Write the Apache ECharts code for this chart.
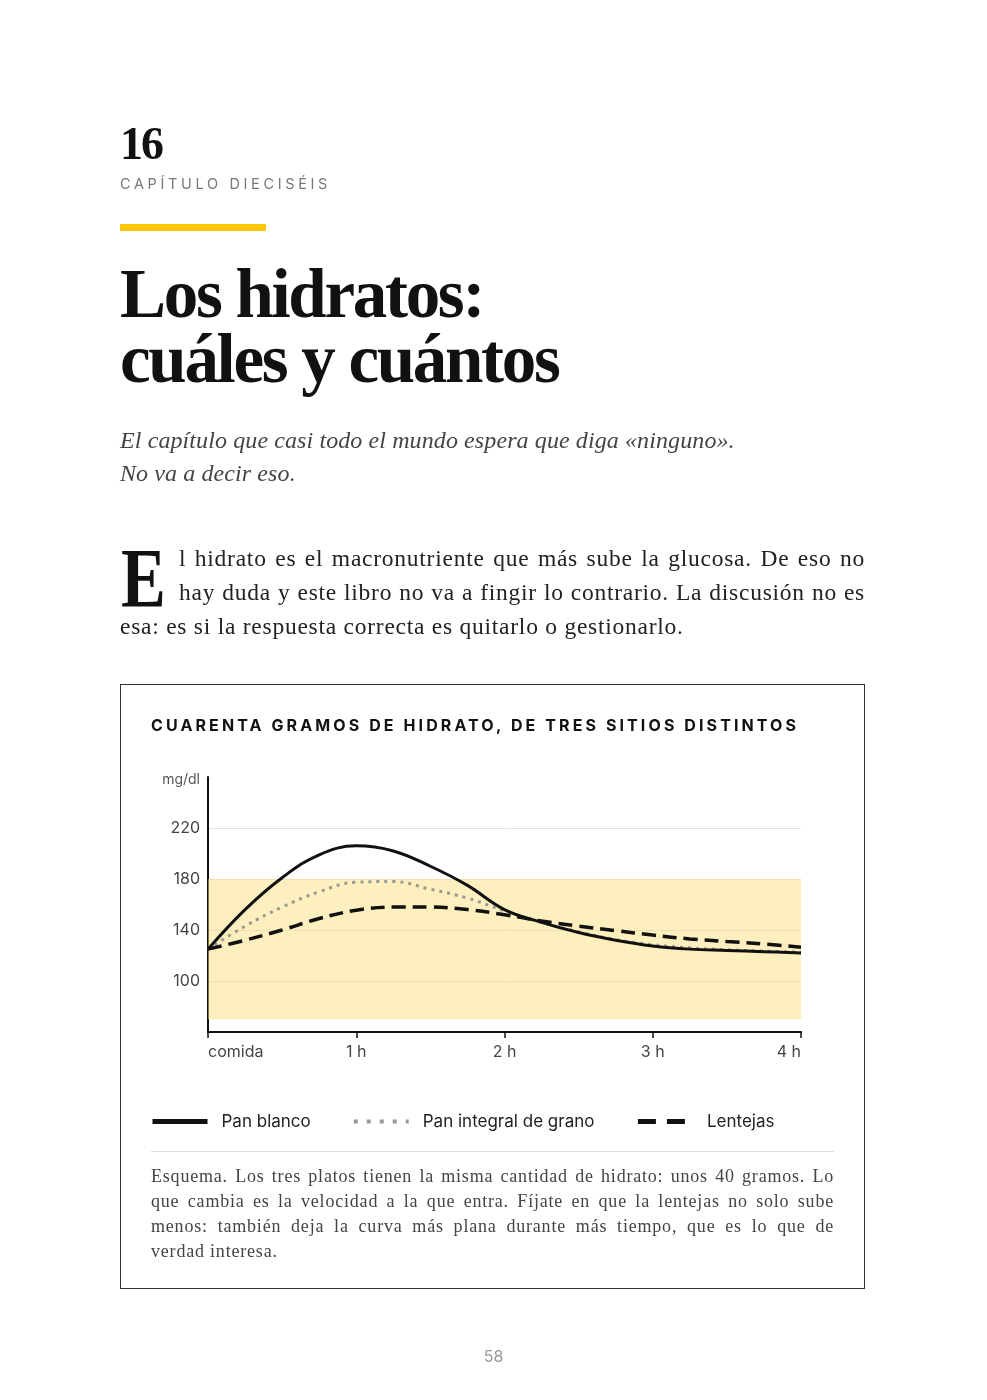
<!DOCTYPE html>
<html lang="es">
<head>
<meta charset="utf-8">
<title>Los hidratos: cuáles y cuántos</title>
<script src="https://cdn.jsdelivr.net/npm/echarts@6/dist/echarts.min.js"></script>
<style>
  html, body { margin: 0; padding: 0; background: #fff; }
  body { position: relative; width: 987px; height: 1400px; overflow: hidden; }
  #chart { position: absolute; left: 0; top: 0; width: 987px; height: 1400px; z-index: 0; }
  .abs { position: absolute; z-index: 1; }
  .serif { font-family: "Liberation Serif", "DejaVu Serif", serif; }
  .sans { font-family: Inter, "Noto Sans", sans-serif; }
  .num { left: 120px; top: 121px; font-size: 46px; line-height: 46px; font-weight: 700; color: #111; letter-spacing: -2px; }
  .kicker { left: 120px; top: 175px; font-size: 14.5px; line-height: 18px; letter-spacing: 3.65px; color: #777; }
  .bar { left: 120px; top: 224px; width: 146px; height: 7px; background: #fcc800; }
  .headline { left: 120px; top: 262px; font-size: 69px; line-height: 65px; font-weight: 700; color: #111; letter-spacing: -2.3px; }
  .sub { left: 120px; top: 424px; font-size: 24px; line-height: 33px; font-style: italic; color: #444; letter-spacing: 0.1px; }
  .para { left: 120px; top: 541px; width: 745px; font-size: 23.5px; line-height: 34px; letter-spacing: 0.75px; color: #222; }
  .para .j { text-align: justify; text-align-last: justify; margin-left: 59px; }
  .drop { position: absolute; left: 1px; top: 4px; font-size: 84px; line-height: 68px; font-weight: 700; color: #111; letter-spacing: 0; transform: scaleX(0.8); transform-origin: left top; }
  .box { left: 120px; top: 684px; width: 745px; height: 605px; border: 1.5px solid #333; box-sizing: border-box; z-index: 0; pointer-events: none; }
  .ctitle { left: 151px; top: 715px; font-size: 16px; line-height: 20px; font-weight: 700; letter-spacing: 3.1px; color: #111; }
  .sep { left: 151px; top: 1151px; width: 683px; height: 1px; background: #ddd; }
  .caption { left: 151px; top: 1164px; width: 683px; font-size: 18px; line-height: 25px; letter-spacing: 0.8px; color: #444; }
  .caption .j { text-align: justify; text-align-last: justify; }
  .page { left: 0; width: 987px; top: 1346px; text-align: center; font-size: 16px; line-height: 20px; color: #999; }
</style>
</head>
<body>
<div id="chart"></div>
<div class="abs box"></div>

<div class="abs serif num">16</div>
<div class="abs sans kicker">CAPÍTULO DIECISÉIS</div>
<div class="abs bar"></div>
<div class="abs serif headline">Los hidratos:<br>cuáles y cuántos</div>
<div class="abs serif sub">El capítulo que casi todo el mundo espera que diga «ninguno».<br>No va a decir eso.</div>
<div class="abs serif para">
  <div class="drop">E</div>
  <div class="j">l hidrato es el macronutriente que más sube la glucosa. De eso no</div>
  <div class="j">hay duda y este libro no va a fingir lo contrario. La discusión no es</div>
  <div>esa: es si la respuesta correcta es quitarlo o gestionarlo.</div>
</div>

<div class="abs sans ctitle">CUARENTA GRAMOS DE HIDRATO, DE TRES SITIOS DISTINTOS</div>
<div class="abs sep"></div>
<div class="abs serif caption">
  <div class="j">Esquema. Los tres platos tienen la misma cantidad de hidrato: unos 40 gramos. Lo</div>
  <div class="j">que cambia es la velocidad a la que entra. Fíjate en que la lentejas no solo sube</div>
  <div class="j">menos: también deja la curva más plana durante más tiempo, que es lo que de</div>
  <div>verdad interesa.</div>
</div>
<div class="abs sans page">58</div>

<script>
// horas desde la comida
const hours = [0, 0.25, 0.5, 0.75, 1, 1.25, 1.5, 1.75, 2, 2.25, 2.5, 2.75, 3, 3.25, 3.5, 3.75, 4];

const panBlanco   = [125, 156, 181, 199, 206, 202, 190, 175, 156, 146, 138, 132, 127.5, 125, 124, 123, 122];
const panIntegral = [125, 143, 158, 170, 177.5, 178, 172, 165, 155, 146, 138.5, 132.5, 128.5, 126, 124.5, 123.5, 122.5];
const lentejas    = [125, 132, 140, 149, 155.5, 158, 158, 156, 152, 147, 143, 139.5, 136, 133, 131, 129, 126.5];

const xLabels = ['comida', '1 h', '2 h', '3 h', '4 h'];
const yTicks = [100, 140, 180, 220];
const rangoNormal = [70, 180];

const names = ['Pan blanco', 'Pan integral de grano', 'Lentejas'];

function pairs(values) {
  return hours.map((h, i) => [h, values[i]]);
}

let chartDom = document.getElementById('chart');
let myChart = echarts.init(chartDom, null, { renderer: 'canvas' });

const font = 'Inter, "Noto Sans", sans-serif';

let option = {
  animation: false,
  backgroundColor: 'transparent',
  grid: { left: 208, right: 186, top: 777, bottom: 368, containLabel: false },
  legend: {
    left: 150,
    top: 1113,
    padding: 0,
    itemWidth: 55,
    itemHeight: 14,
    itemGap: 41,
    selectedMode: false,
    itemStyle: { opacity: 0 },
    textStyle: { fontFamily: font, fontSize: 17, color: '#222', padding: [0, 0, 0, 9] },
    data: [
      { name: names[0], lineStyle: { width: 5, color: '#111', type: 'solid', cap: 'butt' } },
      { name: names[1], lineStyle: { width: 4, color: '#999', type: [4, 9], cap: 'butt' } },
      { name: names[2], lineStyle: { width: 5, color: '#111', type: [18, 11], cap: 'butt' } }
    ]
  },
  xAxis: {
    type: 'value',
    min: 0,
    max: 4,
    interval: 1,
    axisLine: { show: true, lineStyle: { color: '#111', width: 2 } },
    axisTick: { show: true, inside: false, length: 6, lineStyle: { color: '#111', width: 1.5 } },
    splitLine: { show: false },
    axisLabel: {
      fontFamily: font, fontSize: 16, color: '#444', margin: 12,
      alignMinLabel: 'left', alignMaxLabel: 'right',
      formatter: v => xLabels[Math.round(v)] || ''
    }
  },
  yAxis: {
    type: 'value',
    min: 60,
    max: 260,
    interval: 40,
    name: 'mg/dl',
    nameLocation: 'end',
    nameGap: -3,
    nameTextStyle: { fontFamily: font, fontSize: 14, color: '#555', align: 'right', verticalAlign: 'middle', padding: [0, 8, 0, 0] },
    axisLine: { show: true, lineStyle: { color: '#111', width: 2 } },
    axisTick: { show: false },
    splitLine: { show: true, showMinLine: false, showMaxLine: false, lineStyle: { color: '#e2e2e2', width: 1 } },
    axisLabel: {
      fontFamily: font, fontSize: 16, color: '#444', margin: 8,
      formatter: v => (yTicks.includes(v) ? String(v) : '')
    }
  },
  series: [
    {
      name: names[0],
      type: 'line',
      data: pairs(panBlanco),
      smooth: 0.4,
      symbol: 'none',
      z: 4,
      lineStyle: { color: '#111', width: 3 },
      markArea: {
        silent: true,
        itemStyle: { color: 'rgba(251, 222, 120, 0.48)' },
        data: [[{ xAxis: 0, yAxis: rangoNormal[0] }, { xAxis: 4, yAxis: rangoNormal[1] }]]
      }
    },
    {
      name: names[1],
      type: 'line',
      data: pairs(panIntegral),
      smooth: 0.4,
      symbol: 'none',
      z: 3,
      lineStyle: { color: '#999', width: 3, type: [3, 5] }
    },
    {
      name: names[2],
      type: 'line',
      data: pairs(lentejas),
      smooth: 0.4,
      symbol: 'none',
      z: 5,
      lineStyle: { color: '#111', width: 3.5, type: [14, 7] }
    }
  ]
};

option && myChart.setOption(option);
</script>
</body>
</html>
